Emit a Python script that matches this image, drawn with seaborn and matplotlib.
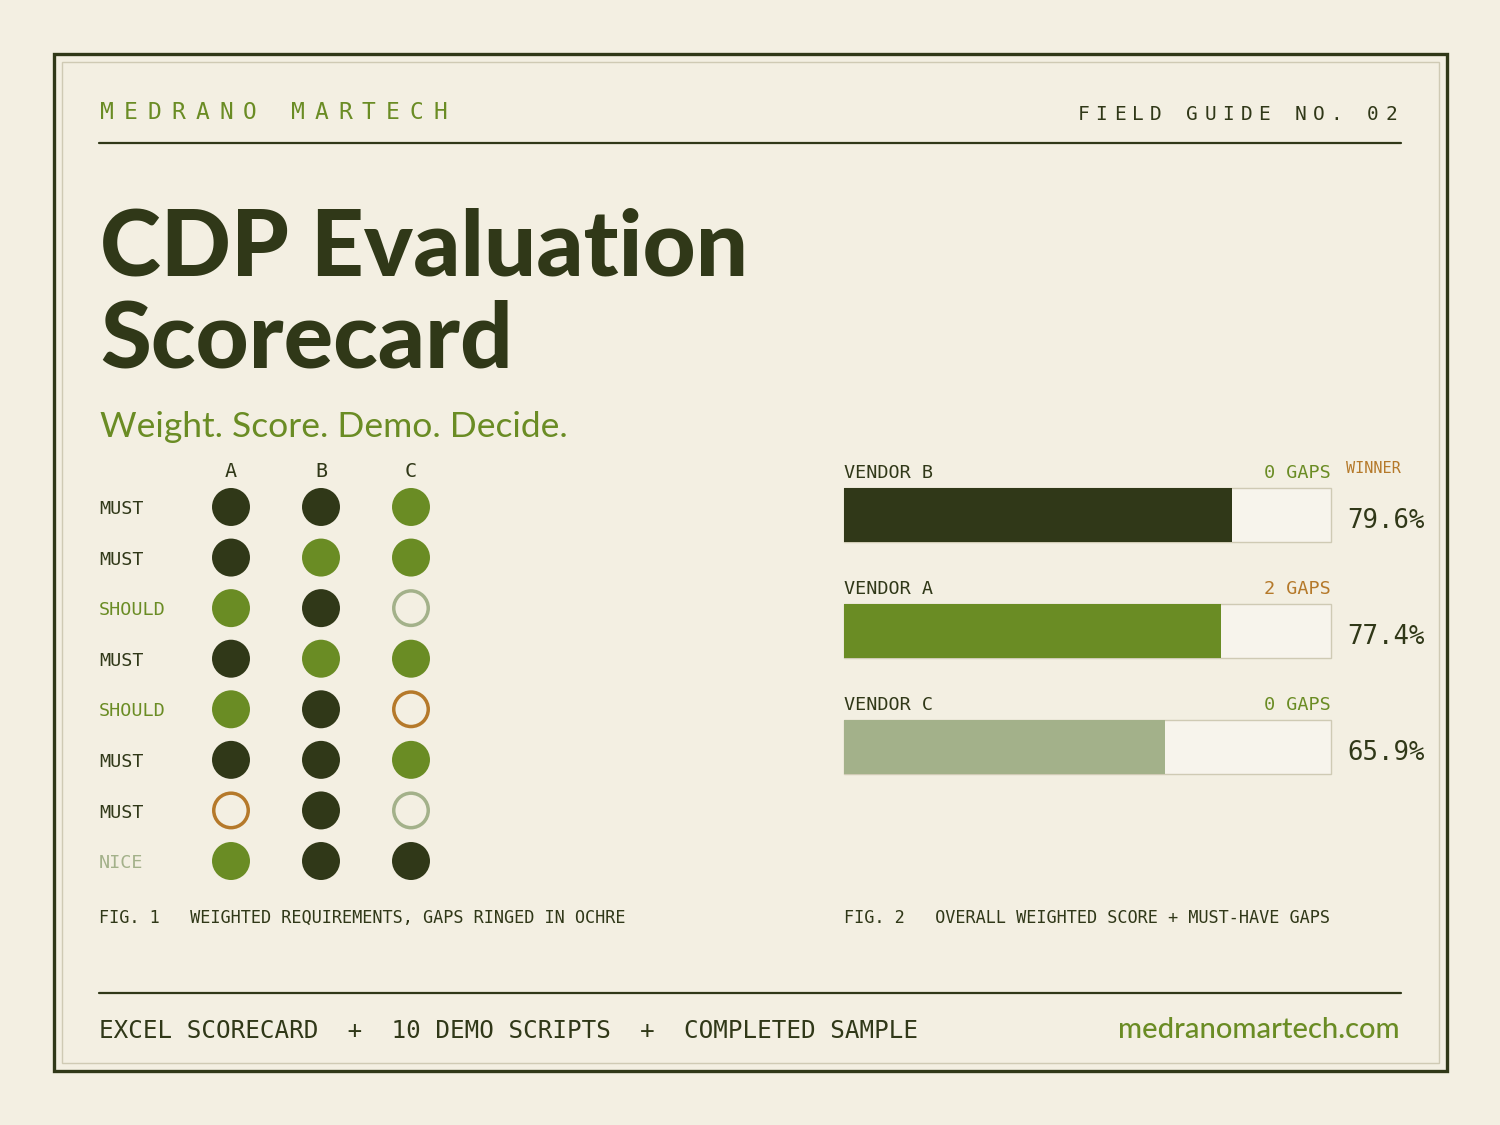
import matplotlib.pyplot as plt
import matplotlib.patches as mpatches
import pandas as pd
import seaborn as sns

# ---- data ----
vendor_cols = ["A", "B", "C"]
req_weights = ["MUST", "MUST", "SHOULD", "MUST", "SHOULD", "MUST", "MUST", "NICE"]
# status of each requirement per vendor: strong / good / na / gap
status_a = ["strong", "strong", "good", "strong", "good", "strong", "gap", "good"]
status_b = ["strong", "good", "strong", "good", "strong", "strong", "strong", "strong"]
status_c = ["good", "good", "na", "good", "gap", "good", "na", "strong"]

vendor_names = ["VENDOR B", "VENDOR A", "VENDOR C"]
overall_pct = [79.6, 77.4, 65.9]
gap_counts = [0, 2, 0]

# ---- style ----
BG = "#f3efe2"
DARK = "#303818"
GREEN = "#6a8c24"
PALE = "#a3b18a"
OCHRE = "#b5792a"
TRACK = "#f7f4ec"
EDGE = "#cfcab4"
MONO = "DejaVu Sans Mono"
SANS = "Lato"

sns.set_style("white")
plt.rcParams["font.family"] = ["DejaVu Sans Mono", "DejaVu Sans"]

W, H = 1500, 1125
fig = plt.figure(figsize=(15, 11.25), dpi=100, facecolor=BG)


def rect(x0, y0, x1, y1):
    return [x0 / W, 1 - y1 / H, (x1 - x0) / W, (y1 - y0) / H]


bg = fig.add_axes([0, 0, 1, 1], zorder=0)
bg.set_xlim(0, W)
bg.set_ylim(H, 0)
bg.axis("off")

# frames
bg.add_patch(mpatches.Rectangle((54, 54), 1393, 1017, fill=False, edgecolor=DARK, linewidth=2.4))
bg.add_patch(mpatches.Rectangle((62, 62), 1377, 1001, fill=False, edgecolor=EDGE, linewidth=1.0))
bg.plot([99, 1401], [143, 143], color=DARK, linewidth=1.6)
bg.plot([99, 1401], [993, 993], color=DARK, linewidth=1.6)


def spaced(ax, x, y, s, step, ha="left", **kw):
    n = len(s)
    start = x if ha == "left" else x - (n - 1) * step
    for i, ch in enumerate(s):
        if ch != " ":
            ax.text(start + i * step, y, ch, ha="center", va="baseline", **kw)


spaced(bg, 107, 119, "MEDRANO MARTECH", 23.8, color=GREEN, fontsize=16.5, family=MONO)
spaced(bg, 1391, 120, "FIELD GUIDE NO. 02", 18.1, ha="right", color=DARK, fontsize=14, family=MONO)

bg.text(100, 276, "CDP Evaluation", fontsize=66.5, fontweight="black", family=SANS,
        color=DARK, va="baseline")
bg.text(100, 368, "Scorecard", fontsize=66.5, fontweight="black", family=SANS,
        color=DARK, va="baseline")
bg.text(100, 437, "Weight. Score. Demo. Decide.", fontsize=25.5, family=SANS,
        color=GREEN, va="baseline")

bg.text(99, 923, "FIG. 1   WEIGHTED REQUIREMENTS, GAPS RINGED IN OCHRE",
        fontsize=12.2, family=MONO, color=DARK, va="baseline")
bg.text(844, 923, "FIG. 2   OVERALL WEIGHTED SCORE + MUST-HAVE GAPS",
        fontsize=12.2, family=MONO, color=DARK, va="baseline")
bg.text(99, 1038, "EXCEL SCORECARD  +  10 DEMO SCRIPTS  +  COMPLETED SAMPLE",
        fontsize=17.5, family=MONO, color=DARK, va="baseline")
bg.text(1400, 1038, "medranomartech.com", fontsize=21, family=SANS, fontweight="medium",
        color=GREEN, va="baseline", ha="right")

# ---- fig 1: dot grid ----
rows = []
for col, vals in zip(vendor_cols, [status_a, status_b, status_c]):
    for r, v in enumerate(vals):
        rows.append({"vendor": col, "row": r, "status": v})
dots = pd.DataFrame(rows)
dots["x"] = dots["vendor"].map({c: i for i, c in enumerate(vendor_cols)})

ax_d = fig.add_axes(rect(186, 481.7, 456, 886.3), zorder=1)
ax_d.patch.set_alpha(0)
filled = dots[dots["status"].isin(["strong", "good"])]
sns.scatterplot(data=filled, x="x", y="row", hue="status",
                palette={"strong": DARK, "good": GREEN}, s=748, linewidth=0,
                legend=False, ax=ax_d)
for st, c in [("na", PALE), ("gap", OCHRE)]:
    sub = dots[dots["status"] == st]
    sns.scatterplot(data=sub, x="x", y="row", s=617, facecolor="none",
                    edgecolor=c, linewidth=2.5, legend=False, ax=ax_d)
ax_d.set_xlim(-0.5, 2.5)
ax_d.set_ylim(7.5, -0.5)
ax_d.axis("off")

for i, c in enumerate(vendor_cols):
    ax_d.text(i, -0.59, c, ha="center", va="baseline", fontsize=14.5, family=MONO, color=DARK)
wcolor = {"MUST": DARK, "SHOULD": GREEN, "NICE": PALE}
for r, w in enumerate(req_weights):
    ax_d.text(-1.467, r + 0.14, w, ha="left", va="baseline", fontsize=13.3,
              family=MONO, color=wcolor[w])

# ---- fig 2: weighted score bars ----
ax_b = fig.add_axes(rect(844, 457, 1331, 805), zorder=1)
ax_b.patch.set_alpha(0)
sns.barplot(x=[100] * len(vendor_names), y=vendor_names, orient="h", color=TRACK,
            saturation=1, edgecolor=EDGE, linewidth=1.0, width=0.457, ax=ax_b)
sns.barplot(x=overall_pct, y=vendor_names, hue=vendor_names, orient="h",
            palette=[DARK, GREEN, PALE], saturation=1, linewidth=0, width=0.457,
            legend=False, ax=ax_b)
for p in ax_b.patches:
    p.set_clip_on(False)
ax_b.set_xlim(0, 100)
ax_b.set_ylim(2.5, -0.5)
ax_b.axis("off")

for i, (name, pct, g) in enumerate(zip(vendor_names, overall_pct, gap_counts)):
    ax_b.text(0, i - 0.32, name, ha="left", va="baseline", fontsize=13.3,
              family=MONO, color=DARK)
    ax_b.text(100, i - 0.32, f"{g} GAPS", ha="right", va="baseline", fontsize=13.3,
              family=MONO, color=GREEN if g == 0 else OCHRE)
    ax_b.text(103.3, i + 0.11, f"{pct:.1f}%", ha="left", va="baseline", fontsize=18.5,
              family=MONO, color=DARK)
best = overall_pct.index(max(overall_pct))
ax_b.text(103.1, best - 0.36, "WINNER", ha="left", va="baseline", fontsize=11,
          family=MONO, color=OCHRE)

fig.savefig("out.png", dpi=100, facecolor=BG)
